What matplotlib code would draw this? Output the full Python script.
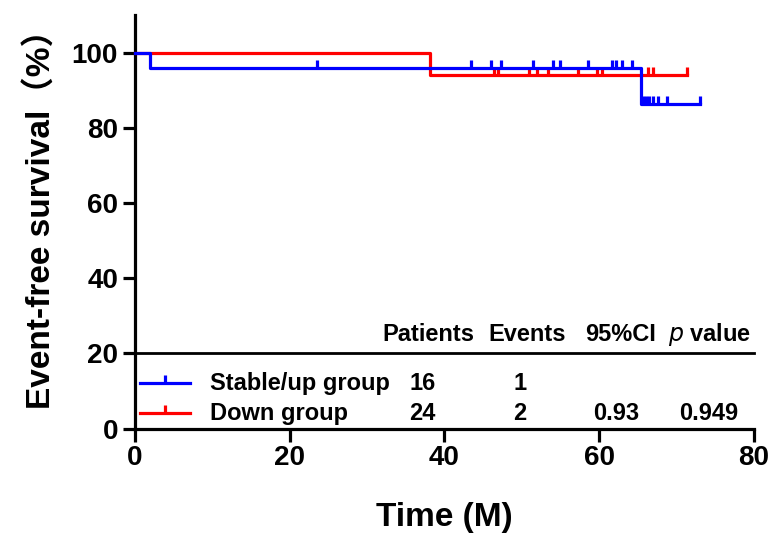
import numpy as np
import matplotlib
matplotlib.use("Agg")
import matplotlib.pyplot as plt
from matplotlib.path import Path

plt.rcParams['font.family'] = ['Liberation Sans', 'Noto Sans CJK SC', 'DejaVu Sans']

# ---- data ----
stable_times = [0, 2.0, 65.4, 73.0]
stable_surv = [100, 95.8, 86.3, 86.3]
stable_censor = [23.5, 43.5, 46.0, 47.3, 51.5, 54.0, 54.9, 58.6, 61.6, 62.2, 62.9, 64.2,
                 65.7, 66.0, 66.4, 67.0, 67.6, 68.7, 73.0]

down_times = [0, 38.2, 71.3]
down_surv = [100, 94.1, 94.1]
down_censor = [46.4, 46.9, 50.9, 52.0, 53.4, 57.3, 59.7, 60.4, 66.3, 67.0, 71.3]

groups = ["Stable/up group", "Down group"]
patients = ["16", "24"]
events = ["1", "2"]
ci = ["", "0.93"]
pval = ["", "0.949"]
headers = ["Patients", "Events", "95%CI", "p value"]
xticks = [0, 20, 40, 60, 80]
yticks = [0, 20, 40, 60, 80, 100]

BLUE = "#0000ff"
RED = "#ff0000"
colors = [BLUE, RED]

tick_marker = Path([(0, 0), (0, 1)], [Path.MOVETO, Path.LINETO])


def step_value(times, surv, t):
    idx = np.searchsorted(times, t, side='right') - 1
    return np.asarray(surv)[idx]


fig = plt.figure(figsize=(7.72, 5.35), dpi=100)
ax = fig.add_axes([0.1745, 0.199, 0.8022, 0.773])

lw = 2.3
for times, surv, cens, c in [(down_times, down_surv, down_censor, RED),
                             (stable_times, stable_surv, stable_censor, BLUE)]:
    ax.step(times, surv, where='post', color=c, lw=lw, clip_on=False, zorder=3)
    cy = [step_value(times, surv, t) for t in cens]
    ax.plot(cens, cy, ls='none', marker=tick_marker, markersize=11,
            markeredgewidth=lw, color=c, clip_on=False, zorder=3)

ax.set_xlim(0, 80)
ax.set_ylim(0, 110)
ax.set_xticks(xticks)
ax.set_yticks(yticks)
for s in ['top', 'right']:
    ax.spines[s].set_visible(False)
for s in ['left', 'bottom']:
    ax.spines[s].set_linewidth(2.3)
ax.tick_params(axis='both', direction='out', length=9, width=2.3, labelsize=20, pad=3)
for lab in ax.get_xticklabels() + ax.get_yticklabels():
    lab.set_fontweight('bold')

ax.set_xlabel("Time (M)", fontsize=24, fontweight='bold', va='center')
ax.set_ylabel("Event-free survival（%）", fontsize=24, fontweight='bold', va='center')
ax.xaxis.set_label_coords(0.5, -0.216)
ax.yaxis.set_label_coords(-0.152, 0.525)

# separator line at 20
ax.plot([0, 80], [20, 20], color='black', lw=2.0, clip_on=False, zorder=2)

# table
hy = 24.9
col_x = [37.9, 50.7, 62.7, 74.2]
fs = 17
for i, h in enumerate(headers[:3]):
    ax.text(col_x[i], hy, h, ha='center', va='center', fontsize=fs, fontweight='bold')
ax.text(col_x[3], hy, r"$\bf{\it{p}}$ value", ha='center', va='center', fontsize=fs,
        fontweight='bold')

row_y = [12.1, 4.1]
val_x = [37.2, 49.8, 62.2, 74.1]
for r in range(2):
    y = row_y[r]
    ax.plot([0.7, 7.1], [y, y], color=colors[r], lw=lw, clip_on=False)
    ax.plot([3.9], [y], ls='none', marker=tick_marker, markersize=11,
            markeredgewidth=lw, color=colors[r], clip_on=False)
    ax.text(9.75, y, groups[r], ha='left', va='center', fontsize=fs, fontweight='bold')
    for j, v in enumerate([patients[r], events[r], ci[r], pval[r]]):
        if v:
            ax.text(val_x[j], y, v, ha='center', va='center', fontsize=fs, fontweight='bold')

fig.savefig("out.png", dpi=100)
